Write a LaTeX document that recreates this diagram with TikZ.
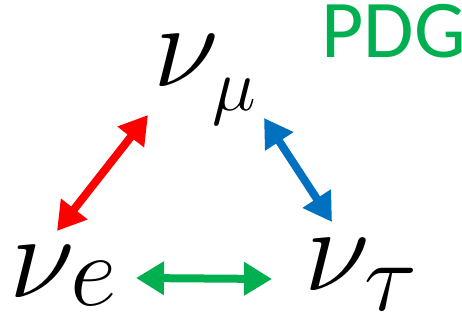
\RequirePackage{fix-cm}
\documentclass[tikz,border=0pt]{standalone}
\usepackage{fontspec}
\newfontfamily\pdgfont{Carlito}
\usetikzlibrary{arrows.meta}
\definecolor{pdggreen}{RGB}{0,176,80}
\definecolor{arrred}{RGB}{255,0,0}
\definecolor{arrblue}{RGB}{0,112,192}
\tikzset{
  dblarrow/.style={line width=8pt,{Triangle[length=28pt,width=32pt]}-{Triangle[length=28pt,width=32pt]}},
  flavour/.style={anchor=base west, inner sep=0pt, font=\fontsize{120}{120}\selectfont}
}
\begin{document}
\begin{tikzpicture}[x=1pt,y=-1pt]
\useasboundingbox (0,0) rectangle (462,320);
\node[flavour] (numu) at (153,87) {$\nu$\kern-6pt\raisebox{-24pt}{\fontsize{74}{74}\selectfont$\mu$}};
\node[flavour] (nue) at (9,297) {$\nu$\kern-4pt\raisebox{-8pt}{\fontsize{102}{102}\selectfont$e$}};
\node[flavour] (nutau) at (304,290) {$\nu$\kern-5pt\raisebox{-20pt}{\fontsize{98}{98}\selectfont$\tau$}};
\node[anchor=base west, inner sep=0pt, text=pdggreen, font=\pdgfont\fontsize{82}{82}\selectfont] (pdg) at (321,58) {PDG};
\coordinate (r1) at (148,115);
\coordinate (r2) at (57,231);
\coordinate (b1) at (264,118);
\coordinate (b2) at (332,222);
\coordinate (g1) at (136,278);
\coordinate (g2) at (272,279);
\draw[dblarrow, arrred] (r1) -- (r2);
\draw[dblarrow, arrblue] (b1) -- (b2);
\draw[dblarrow, pdggreen] (g1) -- (g2);
\end{tikzpicture}
\end{document}
